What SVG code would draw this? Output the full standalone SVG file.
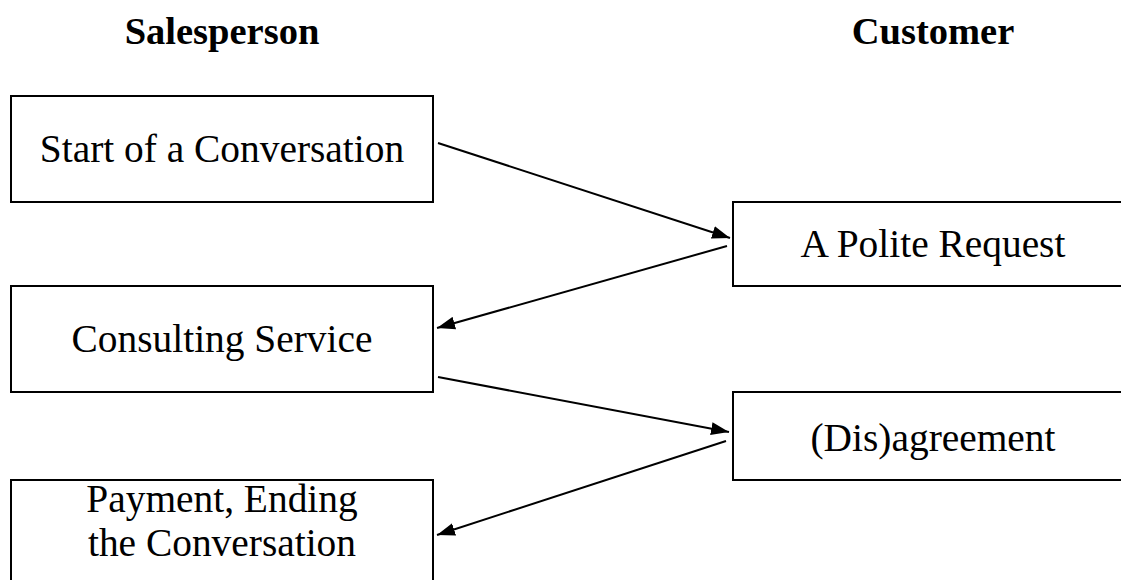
<svg xmlns="http://www.w3.org/2000/svg" width="1121" height="580" viewBox="0 0 1121 580">
  <style>
    .box { fill: #ffffff; stroke: #000000; stroke-width: 2; }
    .lbl { font-family: "Liberation Serif", "Times New Roman", serif; font-size: 39.4px; fill: #000000; text-anchor: middle; }
    .hdr { font-family: "Liberation Serif", "Times New Roman", serif; font-size: 38.5px; font-weight: bold; fill: #000000; text-anchor: middle; }
    .conn { stroke: #000000; stroke-width: 2; fill: none; }
  </style>
  <defs>
    <marker id="arrow" markerUnits="userSpaceOnUse" markerWidth="19" markerHeight="13" refX="18" refY="6.5" orient="auto">
      <path d="M0,0 L18,6.5 L0,13 Z" fill="#000000"/>
    </marker>
  </defs>
  <rect width="1121" height="580" fill="#ffffff"/>

  <g id="header-salesperson">
    <text class="hdr" x="222" y="44">Salesperson</text>
  </g>
  <g id="header-customer">
    <text class="hdr" x="933" y="44">Customer</text>
  </g>

  <g id="node-start">
    <rect class="box" x="11" y="96" width="422" height="106"/>
    <text class="lbl" x="222" y="162">Start of a Conversation</text>
  </g>
  <g id="node-request">
    <rect class="box" x="733" y="202" width="410" height="84"/>
    <text class="lbl" x="933" y="257">A Polite Request</text>
  </g>
  <g id="node-consulting">
    <rect class="box" x="11" y="286" width="422" height="106"/>
    <text class="lbl" x="222" y="352">Consulting Service</text>
  </g>
  <g id="node-agreement">
    <rect class="box" x="733" y="392" width="410" height="88"/>
    <text class="lbl" x="933" y="451">(Dis)agreement</text>
  </g>
  <g id="node-payment">
    <rect class="box" x="11" y="480" width="422" height="130"/>
    <text class="lbl" x="222" y="512">Payment, Ending</text>
    <text class="lbl" x="222" y="556">the Conversation</text>
  </g>

  <g id="connectors">
    <line class="conn" x1="438" y1="143" x2="730" y2="238" marker-end="url(#arrow)"/>
    <line class="conn" x1="727" y1="246" x2="437" y2="328" marker-end="url(#arrow)"/>
    <line class="conn" x1="438" y1="377" x2="729" y2="432" marker-end="url(#arrow)"/>
    <line class="conn" x1="726" y1="441" x2="437" y2="535" marker-end="url(#arrow)"/>
  </g>
</svg>
